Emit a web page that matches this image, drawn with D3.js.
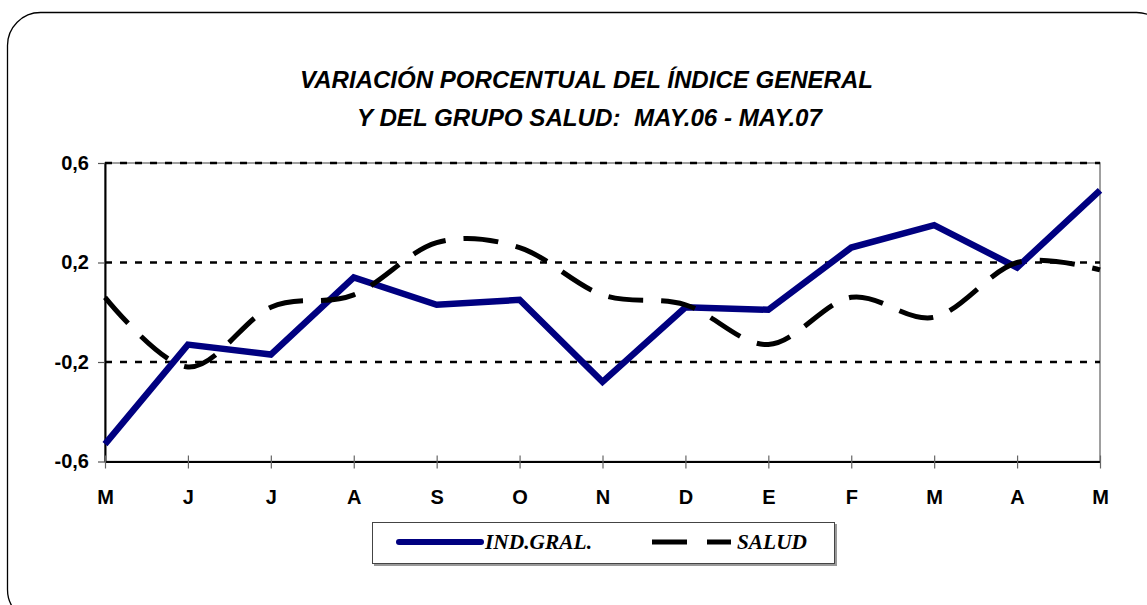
<!DOCTYPE html>
<html>
	<head>
		<title>Variacion porcentual indice general y grupo salud</title>
		<script src="https://d3js.org/d3.v7.min.js"></script>
		<style>
			body { margin: 0; background: #ffffff; }
			svg { display: block; }
			.axis text { font-family: "Liberation Sans", Arial, sans-serif; font-weight: bold; font-size: 20px; fill: #000; }
			.title { font-family: "Liberation Sans", Arial, sans-serif; font-weight: bold; font-style: italic; font-size: 24px; }
			.legend text { font-family: "Liberation Serif", "Times New Roman", serif; font-weight: bold; font-style: italic; font-size: 21px; }
		</style>
	</head>
	<body>
		<svg id="chart" width="1147" height="605"></svg>
		<script>
			// data
			var months = ["M", "J", "J", "A", "S", "O", "N", "D", "E", "F", "M", "A", "M"];
			var indGral = [-0.53, -0.13, -0.17, 0.14, 0.03, 0.05, -0.28, 0.02, 0.01, 0.26, 0.35, 0.18, 0.49];
			var salud = [0.06, -0.22, 0.02, 0.07, 0.28, 0.26, 0.07, 0.03, -0.13, 0.06, -0.02, 0.20, 0.17];
			var yTicks = [-0.6, -0.2, 0.2, 0.6];
			var titleLines = ["VARIACIÓN PORCENTUAL DEL ÍNDICE GENERAL", "Y DEL GRUPO SALUD:  MAY.06 - MAY.07"];
			var seriesNames = ["IND.GRAL.", "SALUD"];

			var svg = d3.select("#chart");

			// outer rounded frame (runs off the page on the right and bottom)
			svg.append("rect")
			.attr("x", 7.5)
			.attr("y", 12.5)
			.attr("width", 1162)
			.attr("height", 610)
			.attr("rx", 33)
			.attr("fill", "none")
			.attr("stroke", "#000")
			.attr("stroke-width", 1.3);

			// title
			svg.append("text").attr("class", "title")
			.attr("x", 300).attr("y", 88)
			.attr("textLength", 573).attr("lengthAdjust", "spacingAndGlyphs")
			.text(titleLines[0]);
			svg.append("text").attr("class", "title")
			.attr("x", 357).attr("y", 126)
			.attr("textLength", 465).attr("lengthAdjust", "spacingAndGlyphs")
			.style("white-space", "pre")
			.text(titleLines[1]);

			var plotL = 105, plotR = 1100, plotT = 163, plotB = 461.5;

			var x = d3.scalePoint()
			.domain(d3.range(months.length))
			.range([plotL, plotR]);

			var y = d3.scaleLinear()
			.domain([-0.6, 0.6])
			.range([plotB, plotT]);

			// plot area border
			svg.append("rect")
			.attr("x", plotL).attr("y", plotT)
			.attr("width", plotR - plotL).attr("height", plotB - plotT)
			.attr("fill", "none")
			.attr("stroke", "#808080")
			.attr("stroke-width", 1.5);

			// dotted gridlines
			svg.selectAll("line.grid")
			.data(yTicks.filter(function(d) { return d > -0.6; }))
			.enter()
			.append("line")
			.attr("class", "grid")
			.attr("x1", plotL).attr("x2", plotR)
			.attr("y1", function(d) { return y(d); })
			.attr("y2", function(d) { return y(d); })
			.attr("stroke", "#000")
			.attr("stroke-width", 2.5)
			.attr("stroke-dasharray", "7,8");

			// axes
			var yAxis = d3.axisLeft(y)
			.tickValues(yTicks)
			.tickSize(7)
			.tickSizeOuter(0)
			.tickPadding(9)
			.tickFormat(function(d) { return d3.format(".1f")(d).replace(".", ",").replace("−", "-"); });

			var gy = svg.append("g").attr("class", "axis")
			.attr("transform", "translate(" + plotL + ",0)")
			.call(yAxis);
			gy.select(".domain").attr("stroke", "#000").attr("stroke-width", 2);
			gy.selectAll(".tick line").attr("stroke", "#555").attr("stroke-width", 1.2);

			var xAxis = d3.axisBottom(x)
			.tickSize(7)
			.tickSizeOuter(0)
			.tickFormat(function(i) { return months[i]; });

			var gx = svg.append("g").attr("class", "axis")
			.attr("transform", "translate(0," + plotB + ")")
			.call(xAxis);
			gx.select(".domain").attr("stroke", "#000").attr("stroke-width", 2.2);
			gx.selectAll(".tick line").attr("y1", -6).attr("y2", 7).attr("stroke", "#666").attr("stroke-width", 1.2);
			gx.selectAll(".tick text").attr("y", 28);

			// series
			var lineStraight = d3.line()
			.x(function(d, i) { return x(i); })
			.y(function(d) { return y(d); });

			var lineSmooth = d3.line()
			.x(function(d, i) { return x(i); })
			.y(function(d) { return y(d); })
			.curve(d3.curveCatmullRom.alpha(0));

			svg.append("path")
			.datum(indGral)
			.attr("d", lineStraight)
			.attr("fill", "none")
			.attr("stroke", "#000080")
			.attr("stroke-width", 6.5)
			.attr("stroke-linejoin", "miter");

			svg.append("path")
			.datum(salud)
			.attr("d", lineSmooth)
			.attr("fill", "none")
			.attr("stroke", "#000")
			.attr("stroke-width", 5)
			.attr("stroke-dasharray", "35,18");

			// legend
			var legend = svg.append("g").attr("class", "legend");
			legend.append("rect")
			.attr("x", 374).attr("y", 524)
			.attr("width", 463).attr("height", 42)
			.attr("fill", "#999");
			legend.append("rect")
			.attr("x", 372.5).attr("y", 522.5)
			.attr("width", 462).attr("height", 41)
			.attr("fill", "#fff")
			.attr("stroke", "#444")
			.attr("stroke-width", 1);

			legend.append("line")
			.attr("x1", 399).attr("x2", 481)
			.attr("y1", 542).attr("y2", 542)
			.attr("stroke", "#000080")
			.attr("stroke-width", 6)
			.attr("stroke-linecap", "round");
			legend.append("text")
			.attr("x", 485).attr("y", 549)
			.attr("textLength", 107).attr("lengthAdjust", "spacingAndGlyphs")
			.text(seriesNames[0]);

			legend.append("line")
			.attr("x1", 652).attr("x2", 731)
			.attr("y1", 542).attr("y2", 542)
			.attr("stroke", "#000")
			.attr("stroke-width", 5)
			.attr("stroke-dasharray", "35,20");
			legend.append("text")
			.attr("x", 737).attr("y", 549)
			.attr("textLength", 70).attr("lengthAdjust", "spacingAndGlyphs")
			.text(seriesNames[1]);
		</script>
	</body>
</html>
